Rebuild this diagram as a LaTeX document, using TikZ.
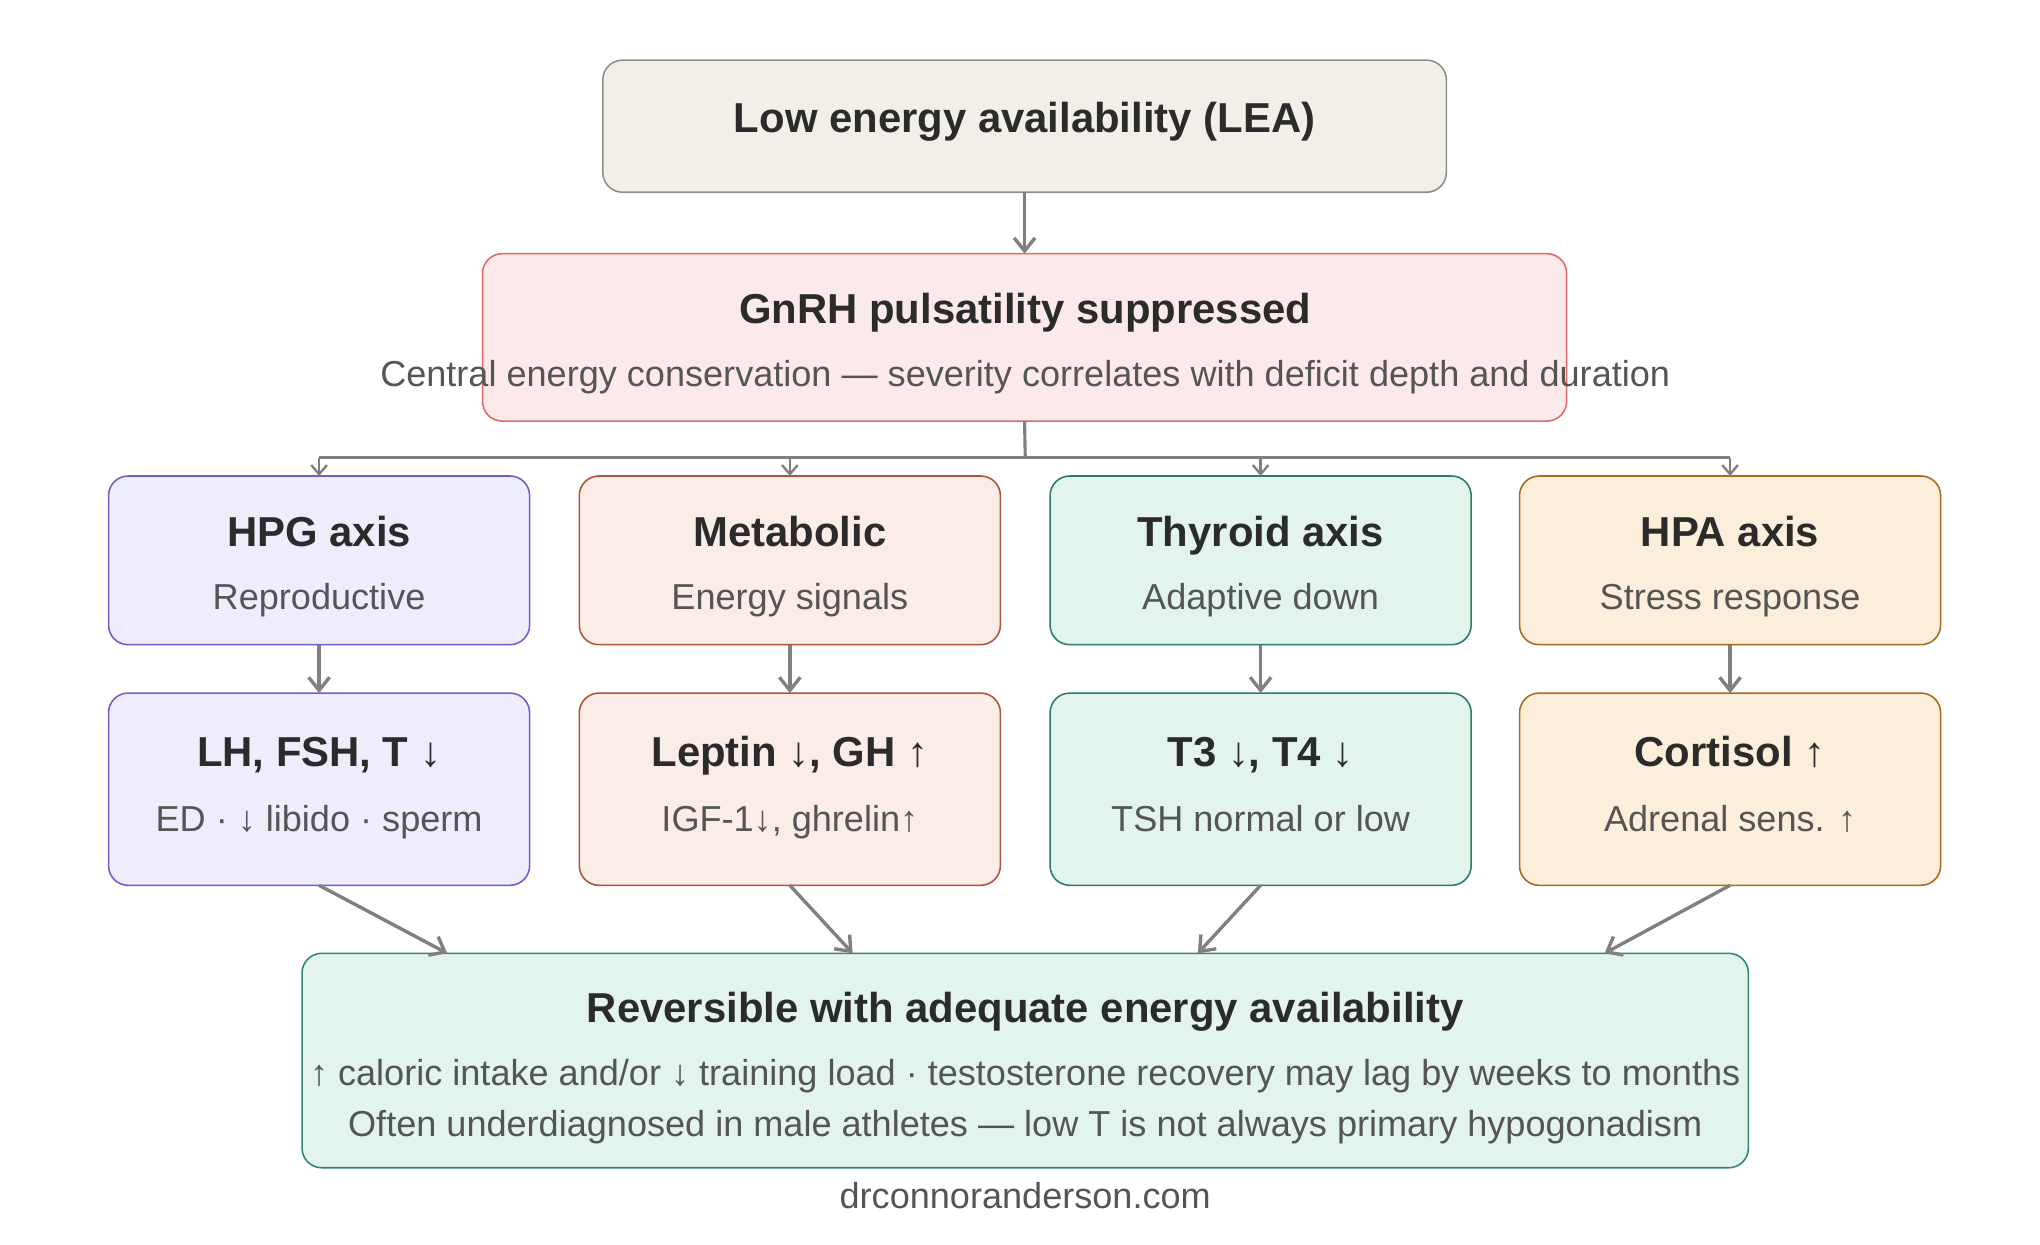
\documentclass[tikz,border=0pt]{standalone}
\usepackage{fontspec}
\setmainfont{Liberation Sans}
\usetikzlibrary{arrows.meta}
\definecolor{tx}{HTML}{2B2B2B}
\definecolor{sb}{HTML}{555555}
\definecolor{ar}{HTML}{808080}
\definecolor{leaf}{HTML}{F2EFE9}\definecolor{lead}{HTML}{8F8F88}
\definecolor{gnf}{HTML}{FCEAEA}\definecolor{gnd}{HTML}{E06A6A}
\definecolor{rf}{HTML}{E2F4EC}\definecolor{rd}{HTML}{2E8B6A}
\tikzset{
 bx/.style={draw, rounded corners=7.5pt, line width=0.6pt, inner sep=0pt, outer sep=0pt},
 ttl/.style={text=tx, font=\fontsize{16}{19}\selectfont\bfseries, anchor=center, text height=0.72em, text depth=0.2em, inner sep=0pt},
 sub/.style={text=sb, font=\fontsize{13.8}{16}\selectfont, anchor=center, text height=0.72em, text depth=0.2em, inner sep=0pt},
 con/.style={draw=ar, line width=1.3pt, -{Straight Barb[length=5pt,width=8pt]}},
 scon/.style={draw=ar, line width=0.9pt, -{Straight Barb[length=3.5pt,width=6pt]}},
}
\begin{document}
\begin{tikzpicture}[x=0.5pt,y=-0.5pt]
\useasboundingbox (0,0) rectangle (1560,952);
\node[bx, fill=leaf, draw=lead, minimum width=322.5pt, minimum height=50.5pt] (lea) at (783.5,96.5) {};
\node[ttl] at (lea) {Low energy availability (LEA)};
\node[bx, fill=gnf, draw=gnd, minimum width=414.5pt, minimum height=64pt] (gn) at (783.5,258) {};
\node[ttl] at (784,242) {GnRH pulsatility suppressed};
\node[sub] at (784,290) {Central energy conservation — severity correlates with deficit depth and duration};
\draw[con] (lea.south) -- (gn.north);
\coordinate (bus) at (784,350);
\draw[draw=ar, line width=1.2pt] (gn.south) -- (bus);
\draw[draw=ar, line width=1.2pt] (244,350) -- (1323,350);
\foreach \i/\x/\fc/\dc/\ta/\sa/\tb/\sbb in {
 1/244/EEEDFC/6A5FCF/HPG axis/Reproductive/{LH, FSH, T ↓}/{ED · ↓ libido · sperm},
 2/604/FAECE7/B0543A/Metabolic/Energy signals/{Leptin ↓, GH ↑}/{IGF-1↓, ghrelin↑},
 3/964/E2F4EC/2E7D5E/Thyroid axis/Adaptive down/{T3 ↓, T4 ↓}/{TSH normal or low},
 4/1323/FBEEDB/A86A1E/HPA axis/Stress response/{Cortisol ↑}/{Adrenal sens. ↑}}{
 \definecolor{cf}{HTML}{\fc}\definecolor{cd}{HTML}{\dc}
 \node[bx, fill=cf, draw=cd, minimum width=161pt, minimum height=64.5pt] (a\i) at (\x,428.5) {};
 \node[ttl] at (\x,413) {\ta};
 \node[sub] at (\x,461) {\sa};
 \node[bx, fill=cf, draw=cd, minimum width=161pt, minimum height=73.5pt] (b\i) at (\x,603.5) {};
 \node[ttl] at (\x,581) {\tb};
 \node[sub] at (\x,631) {\sbb};
 \coordinate (t\i) at (\x,350);
 \draw[scon] (t\i) -- (a\i.north);
 \draw[con] (a\i.south) -- (b\i.north);
}
\node[bx, fill=rf, draw=rd, minimum width=553pt, minimum height=82pt] (r) at (784,811) {};
\node[ttl] at (784,777) {Reversible with adequate energy availability};
\node[sub] at (784,825) {↑ caloric intake and/or ↓ training load · testosterone recovery may lag by weeks to months};
\node[sub] at (784,864) {Often underdiagnosed in male athletes — low T is not always primary hypogonadism};
\coordinate (e1) at (342,729); \coordinate (e2) at (652,729);
\coordinate (e3) at (916,729); \coordinate (e4) at (1227,729);
\foreach \i in {1,2,3,4}{\draw[con] (b\i.south) -- (e\i);}
\node[sub] (ft) at (784,919) {drconnoranderson.com};
\end{tikzpicture}
\end{document}
